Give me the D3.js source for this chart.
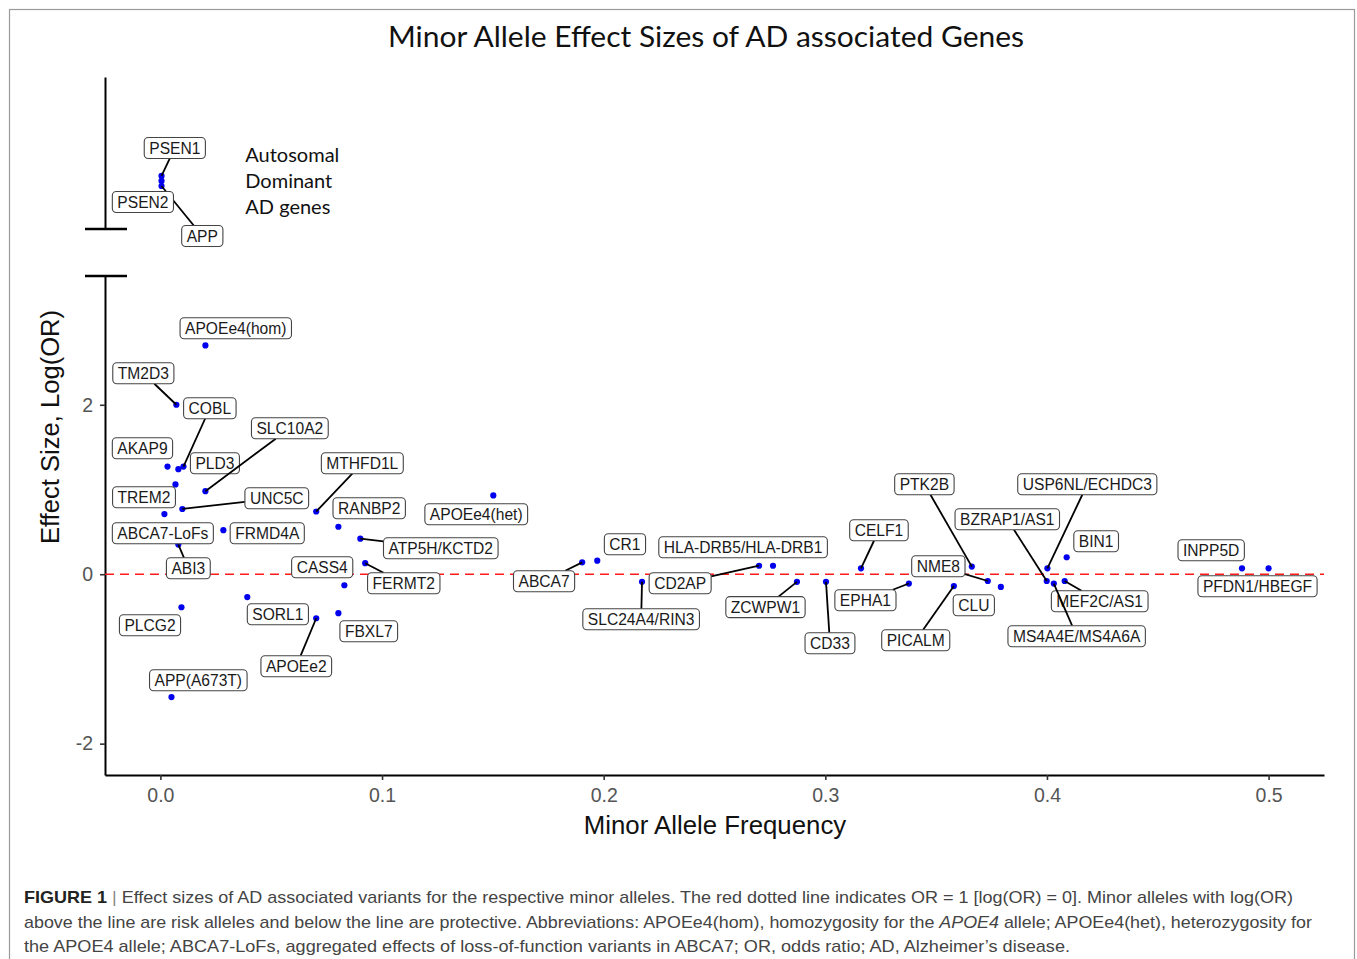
<!DOCTYPE html>
<html>
<head>
<meta charset="utf-8">
<script src="https://cdn.jsdelivr.net/npm/d3@7"></script>
<style>
  html, body { margin: 0; padding: 0; background: #fff; }
  svg { display: block; }
</style>
</head>
<body>
<svg id="chart" width="1357" height="959"></svg>
<script>
// ---------------- DATA ----------------
// Autosomal dominant genes (upper, broken panel; effect on an un-scaled axis)
const adGenes  = ["PSEN1", "APP", "PSEN2"];
const adMaf    = [0.0005, 0.0005, 0.0005];
const adEffect = [0.349, 0.283, 0.316];
const adLabelMaf    = [0.0065, 0.0189, -0.0079];
const adLabelEffect = [0.533, -0.046, 0.178];

// Main panel
const genes = ["APOEe4(hom)","TM2D3","COBL","PLD3","AKAP9","SLC10A2","TREM2","UNC5C",
  "ABCA7-LoFs","FRMD4A","ABI3","MTHFD1L","RANBP2","ATP5H/KCTD2","FERMT2","CASS4",
  "APOEe4(het)","FBXL7","APOEe2","SORL1","PLCG2","APP(A673T)","ABCA7","CR1",
  "SLC24A4/RIN3","CD2AP","HLA-DRB5/HLA-DRB1","ZCWPW1","CD33","CELF1","EPHA1","PTK2B",
  "NME8","CLU","PICALM","BZRAP1/AS1","USP6NL/ECHDC3","BIN1","MEF2C/AS1","MS4A4E/MS4A6A",
  "INPP5D","PFDN1/HBEGF"];
const maf = [0.0203,0.0072,0.0104,0.0081,0.0032,0.0203,0.0068,0.0099,
  0.0018,0.0284,0.0081,0.0703,0.0803,0.0902,0.0924,0.0830,
  0.1502,0.0803,0.0703,0.0392,0.0095,0.0050,0.1903,0.1971,
  0.2173,0.2701,0.2764,0.2872,0.3003,0.3161,0.3377,0.3661,
  0.3733,0.3792,0.3580,0.3999,0.4002,0.4089,0.4080,0.4031,
  0.4880,0.5000];
const logOR = [2.70,2.00,1.27,1.24,1.27,0.98,1.06,0.77,
  0.71,0.52,0.35,0.74,0.56,0.42,0.13,-0.13,
  0.93,-0.46,-0.52,-0.27,-0.39,-1.45,0.14,0.16,
  -0.09,0.10,0.10,-0.09,-0.09,0.07,-0.11,0.09,
  -0.08,-0.15,-0.14,-0.08,0.07,0.20,-0.08,-0.11,
  0.07,0.07];
// repelled label placement (data coordinates)
const labelMaf = [0.0340,-0.0077,0.0223,0.0246,-0.0081,0.0584,-0.0074,0.0525,
  0.0011,0.0482,0.0126,0.0911,0.0942,0.1265,0.1098,0.0730,
  0.1425,0.0940,0.0613,0.0530,-0.0047,0.0171,0.1731,0.2096,
  0.2169,0.2345,0.2629,0.2730,0.3021,0.3242,0.3181,0.3447,
  0.3510,0.3670,0.3408,0.3821,0.4182,0.4222,0.4238,0.4134,
  0.4741,0.4950];
const labelLogOR = [2.903,2.372,1.959,1.310,1.487,1.723,0.909,0.897,
  0.484,0.484,0.071,1.310,0.779,0.307,-0.106,0.083,
  0.708,-0.673,-1.086,-0.472,-0.602,-1.251,-0.083,0.354,
  -0.531,-0.106,0.319,-0.389,-0.814,0.519,-0.307,1.062,
  0.094,-0.366,-0.779,0.649,1.062,0.389,-0.319,-0.732,
  0.283,-0.142];
const withLeader = ["PSEN1","APP","TM2D3","COBL","SLC10A2","UNC5C","ABI3","MTHFD1L",
  "ATP5H/KCTD2","FERMT2","APOEe2","ABCA7","SLC24A4/RIN3","CD2AP","ZCWPW1","CD33",
  "CELF1","EPHA1","PTK2B","NME8","PICALM","BZRAP1/AS1","USP6NL/ECHDC3",
  "MS4A4E/MS4A6A","MEF2C/AS1"];

const xTicks = [0, 0.1, 0.2, 0.3, 0.4, 0.5];
const yTicks = [-2, 0, 2];
const adNote = ["Autosomal", "Dominant", "AD genes"];

const title = "Minor Allele Effect Sizes of AD associated Genes";
const xTitle = "Minor Allele Frequency";
const yTitle = "Effect Size, Log(OR)";

// ---------------- DRAW ----------------
const svg = d3.select("#chart");

// frame
svg.append("rect").attr("x", 9.5).attr("y", 9.5).attr("width", 1345).attr("height", 1000)
  .attr("fill", "none").attr("stroke", "#9a9a9a").attr("stroke-width", 1.2);

const x = d3.scaleLinear().domain([-0.025, 0.525]).range([105, 1324]);
const y = d3.scaleLinear().domain([-2.37, 3.52]).range([775, 276]);
const yTop = d3.scaleLinear().domain([0, 1]).range([229, 77]);

// title
svg.append("text").attr("x", 706).attr("y", 47).attr("text-anchor", "middle")
  .attr("font-family", "Lato, 'Open Sans', sans-serif").attr("font-size", 29)
  .attr("fill", "#111").attr("textLength", 636).attr("lengthAdjust", "spacingAndGlyphs")
  .text(title);

// axes
const axisFont = "'Liberation Sans', Arial, sans-serif";
const gx = svg.append("g").attr("transform", `translate(0,${y.range()[0]})`)
  .call(d3.axisBottom(x).tickValues(xTicks).tickFormat(d3.format(".1f"))
    .tickSize(5).tickSizeOuter(0).tickPadding(8));
const gy = svg.append("g").attr("transform", `translate(${x.range()[0]},0)`)
  .call(d3.axisLeft(y).tickValues(yTicks).tickFormat(d3.format("d"))
    .tickSize(5).tickSizeOuter(0).tickPadding(7));
const gyTop = svg.append("g").attr("transform", `translate(${x.range()[0]},0)`)
  .call(d3.axisLeft(yTop).tickValues([]).tickSizeOuter(0));
[gx, gy, gyTop].forEach(g => {
  g.select(".domain").attr("stroke", "#000").attr("stroke-width", 2);
  g.selectAll(".tick line").attr("stroke", "#333").attr("stroke-width", 1.6);
  g.selectAll(".tick text").attr("font-family", axisFont).attr("font-size", 19.5).attr("fill", "#555");
});
gy.selectAll(".tick text").text(d => d < 0 ? "-" + Math.abs(d) : d);

// axis break marks
[yTop.range()[0], y.range()[1]].forEach(v => {
  svg.append("line").attr("x1", x.range()[0] - 20).attr("x2", x.range()[0] + 22)
    .attr("y1", v).attr("y2", v).attr("stroke", "#000").attr("stroke-width", 2.5);
});

// axis titles
svg.append("text").attr("x", 715).attr("y", 834).attr("text-anchor", "middle")
  .attr("font-family", axisFont).attr("font-size", 25.8).attr("fill", "#111").text(xTitle);
svg.append("text").attr("transform", `translate(59,427) rotate(-90)`).attr("text-anchor", "middle")
  .attr("font-family", axisFont).attr("font-size", 25.6).attr("fill", "#111").text(yTitle);

// reference line
svg.append("line").attr("x1", x.range()[0]).attr("x2", x.range()[1])
  .attr("y1", y(0)).attr("y2", y(0))
  .attr("stroke", "#ff1a1a").attr("stroke-width", 1.6).attr("stroke-dasharray", "9,6");

// note
svg.append("g").selectAll("text").data(adNote).join("text")
  .attr("x", x(0.0383)).attr("y", (d, i) => yTop(0.487) + 7 + i * 26)
  .attr("font-family", "Lato, 'Open Sans', sans-serif").attr("font-size", 20).attr("fill", "#111")
  .text(d => d);

// combine records
const recs = [];
adGenes.forEach((g, i) => recs.push({ g, px: x(adMaf[i]), py: yTop(adEffect[i]),
  lx: x(adLabelMaf[i]), ly: yTop(adLabelEffect[i]) }));
genes.forEach((g, i) => recs.push({ g, px: x(maf[i]), py: y(logOR[i]),
  lx: x(labelMaf[i]), ly: y(labelLogOR[i]) }));

// points
svg.append("g").selectAll("circle").data(recs).join("circle")
  .attr("cx", d => d.px).attr("cy", d => d.py).attr("r", 3.1).attr("fill", "#0000ee");

// labels with leader segments
const labFont = "'Liberation Sans', Arial, sans-serif";
const gl = svg.append("g");
recs.forEach(d => {
  const g = gl.append("g");
  const seg = g.append("line");
  const rect = g.append("rect");
  const t = g.append("text").attr("x", d.lx).attr("y", d.ly + 5.6).attr("text-anchor", "middle")
    .attr("font-family", labFont).attr("font-size", 15.6).attr("fill", "#1a1a1a").text(d.g);
  const w = t.node().getComputedTextLength() + 10, h = 21;
  rect.attr("x", d.lx - w / 2).attr("y", d.ly - h / 2).attr("width", w).attr("height", h)
    .attr("rx", 4).attr("fill", "#fff").attr("stroke", "#444").attr("stroke-width", 1.1);
  if (withLeader.includes(d.g)) {
    const dx = d.px - d.lx, dy = d.py - d.ly;
    const tx = dx === 0 ? Infinity : (w / 2) / Math.abs(dx);
    const ty = dy === 0 ? Infinity : (h / 2) / Math.abs(dy);
    const tt = Math.min(tx, ty);
    seg.attr("x1", d.lx + dx * tt).attr("y1", d.ly + dy * tt).attr("x2", d.px).attr("y2", d.py)
      .attr("stroke", "#000").attr("stroke-width", 1.8);
  } else seg.remove();
});

// caption
const cap = svg.append("g").attr("font-family", axisFont).attr("font-size", 17).attr("fill", "#444");
const l1 = cap.append("text").attr("x", 24).attr("y", 903).attr("textLength", 1269).attr("lengthAdjust", "spacingAndGlyphs");
l1.append("tspan").attr("font-weight", "bold").attr("fill", "#222").text("FIGURE 1");
l1.append("tspan").attr("fill", "#888").text(" | ");
l1.append("tspan").text("Effect sizes of AD associated variants for the respective minor alleles. The red dotted line indicates OR = 1 [log(OR) = 0]. Minor alleles with log(OR)");
const l2 = cap.append("text").attr("x", 24).attr("y", 928).attr("textLength", 1288).attr("lengthAdjust", "spacingAndGlyphs");
l2.append("tspan").text("above the line are risk alleles and below the line are protective. Abbreviations: APOEe4(hom), homozygosity for the ");
l2.append("tspan").attr("font-style", "italic").text("APOE4");
l2.append("tspan").text(" allele; APOEe4(het), heterozygosity for");
cap.append("text").attr("x", 24).attr("y", 952).attr("textLength", 1046).attr("lengthAdjust", "spacingAndGlyphs")
  .text("the APOE4 allele; ABCA7-LoFs, aggregated effects of loss-of-function variants in ABCA7; OR, odds ratio; AD, Alzheimer\u2019s disease.");
</script>
</body>
</html>
